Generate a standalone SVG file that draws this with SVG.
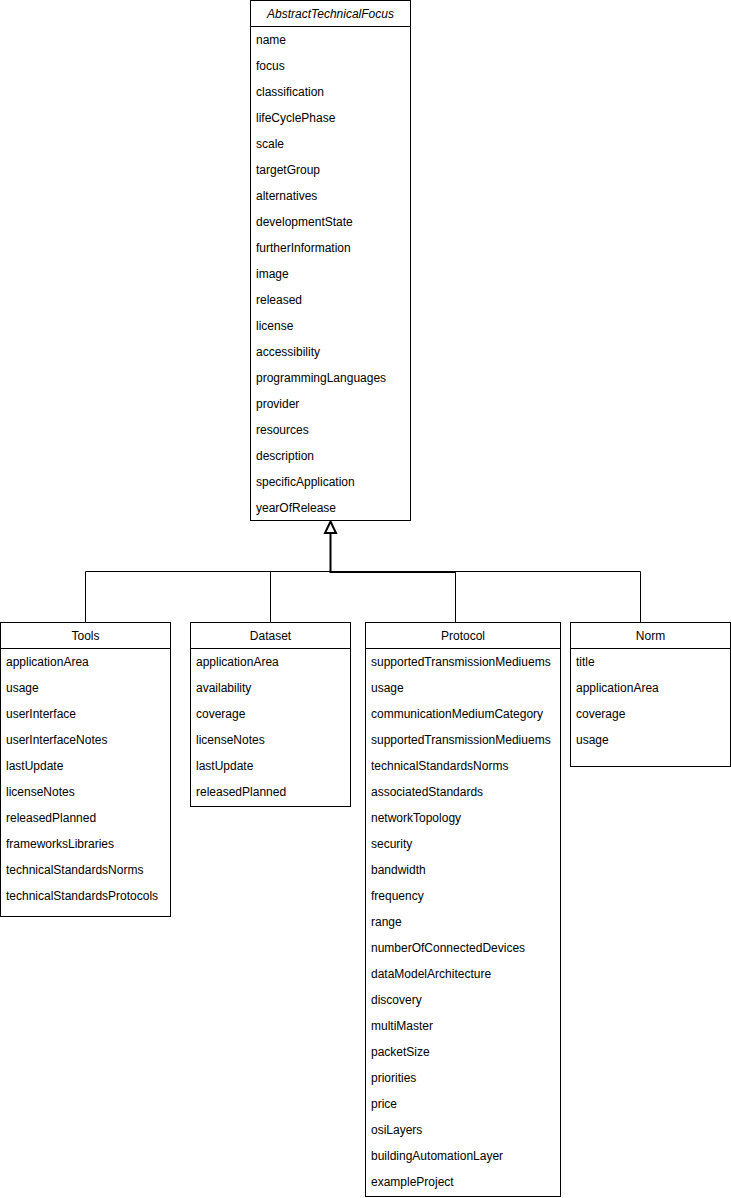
<svg xmlns="http://www.w3.org/2000/svg" width="731" height="1198" viewBox="0 0 731 1198">
<style>
rect{fill:#fff;stroke:#000;stroke-width:1}
line.sep{stroke:#000;stroke-width:1}
text{font-family:"Liberation Sans",Arial,sans-serif;font-size:12px;fill:#000}
.h{text-anchor:middle}
.i{font-style:italic}
.c{fill:none;stroke:#000;stroke-width:1}
</style>
<rect width="731" height="1198" style="stroke:none"/>
<g id="connectors">
<path class="c" d="M85.5 622V571.5H640.5V622M270.5 571.5V622M455.5 571.5V622"/>
<path class="c" d="M330.5 532V572H455.5" style="stroke-width:2"/>
<path d="M330.5 521.5L336 533H325Z" fill="#fff" stroke="#000" stroke-width="2"/>
</g>
<g id="AbstractTechnicalFocus">
<rect x="250.5" y="0.5" width="160" height="520"/>
<line class="sep" x1="250.5" y1="26.5" x2="410.5" y2="26.5"/>
<text class="h i" x="330.5" y="18">AbstractTechnicalFocus</text>
<text x="256" y="44">name</text>
<text x="256" y="70">focus</text>
<text x="256" y="96">classification</text>
<text x="256" y="122">lifeCyclePhase</text>
<text x="256" y="148">scale</text>
<text x="256" y="174">targetGroup</text>
<text x="256" y="200">alternatives</text>
<text x="256" y="226">developmentState</text>
<text x="256" y="252">furtherInformation</text>
<text x="256" y="278">image</text>
<text x="256" y="304">released</text>
<text x="256" y="330">license</text>
<text x="256" y="356">accessibility</text>
<text x="256" y="382">programmingLanguages</text>
<text x="256" y="408">provider</text>
<text x="256" y="434">resources</text>
<text x="256" y="460">description</text>
<text x="256" y="486">specificApplication</text>
<text x="256" y="512">yearOfRelease</text>
</g>
<g id="Tools">
<rect x="0.5" y="622.5" width="170" height="294"/>
<line class="sep" x1="0.5" y1="648.5" x2="170.5" y2="648.5"/>
<text class="h" x="85.5" y="640">Tools</text>
<text x="6" y="666">applicationArea</text>
<text x="6" y="692">usage</text>
<text x="6" y="718">userInterface</text>
<text x="6" y="744">userInterfaceNotes</text>
<text x="6" y="770">lastUpdate</text>
<text x="6" y="796">licenseNotes</text>
<text x="6" y="822">releasedPlanned</text>
<text x="6" y="848">frameworksLibraries</text>
<text x="6" y="874">technicalStandardsNorms</text>
<text x="6" y="900">technicalStandardsProtocols</text>
</g>
<g id="Dataset">
<rect x="190.5" y="622.5" width="160" height="184"/>
<line class="sep" x1="190.5" y1="648.5" x2="350.5" y2="648.5"/>
<text class="h" x="270.5" y="640">Dataset</text>
<text x="196" y="666">applicationArea</text>
<text x="196" y="692">availability</text>
<text x="196" y="718">coverage</text>
<text x="196" y="744">licenseNotes</text>
<text x="196" y="770">lastUpdate</text>
<text x="196" y="796">releasedPlanned</text>
</g>
<g id="Protocol">
<rect x="365.5" y="622.5" width="195" height="574"/>
<line class="sep" x1="365.5" y1="648.5" x2="560.5" y2="648.5"/>
<text class="h" x="463" y="640">Protocol</text>
<text x="371" y="666">supportedTransmissionMediuems</text>
<text x="371" y="692">usage</text>
<text x="371" y="718">communicationMediumCategory</text>
<text x="371" y="744">supportedTransmissionMediuems</text>
<text x="371" y="770">technicalStandardsNorms</text>
<text x="371" y="796">associatedStandards</text>
<text x="371" y="822">networkTopology</text>
<text x="371" y="848">security</text>
<text x="371" y="874">bandwidth</text>
<text x="371" y="900">frequency</text>
<text x="371" y="926">range</text>
<text x="371" y="952">numberOfConnectedDevices</text>
<text x="371" y="978">dataModelArchitecture</text>
<text x="371" y="1004">discovery</text>
<text x="371" y="1030">multiMaster</text>
<text x="371" y="1056">packetSize</text>
<text x="371" y="1082">priorities</text>
<text x="371" y="1108">price</text>
<text x="371" y="1134">osiLayers</text>
<text x="371" y="1160">buildingAutomationLayer</text>
<text x="371" y="1186">exampleProject</text>
</g>
<g id="Norm">
<rect x="570.5" y="622.5" width="160" height="144"/>
<line class="sep" x1="570.5" y1="648.5" x2="730.5" y2="648.5"/>
<text class="h" x="650.5" y="640">Norm</text>
<text x="576" y="666">title</text>
<text x="576" y="692">applicationArea</text>
<text x="576" y="718">coverage</text>
<text x="576" y="744">usage</text>
</g>
</svg>
